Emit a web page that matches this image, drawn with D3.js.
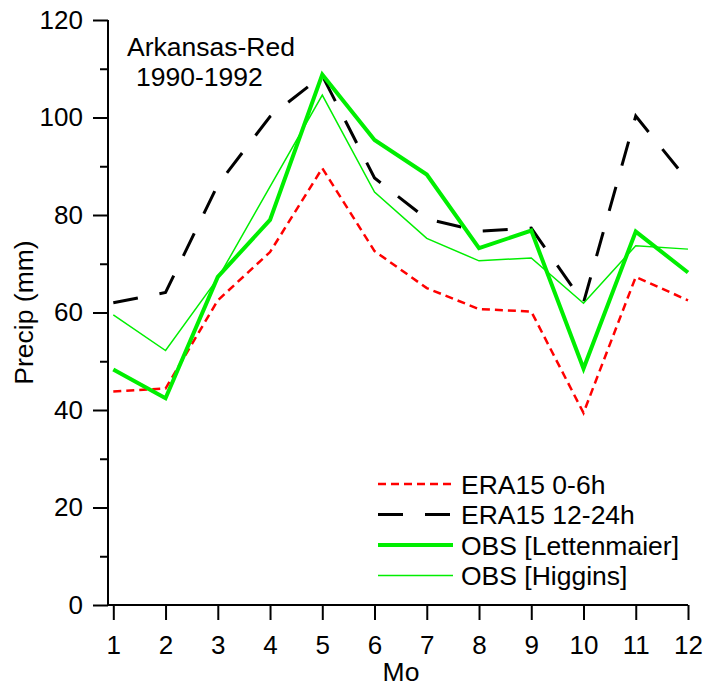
<!DOCTYPE html>
<html>
<head>
<meta charset="utf-8">
<script src="https://cdn.jsdelivr.net/npm/d3@7"></script>
<style>
  body { margin: 0; background: #fff; }
  svg { display: block; font-family: "Liberation Sans", Arial, sans-serif; }
  .axis path, .axis line { stroke: #000; stroke-width: 2px; }
  .axis text { font-size: 26px; fill: #000; }
  .lbl { font-size: 26.5px; fill: #000; }
</style>
</head>
<body>
<svg id="chart"></svg>
<script>
// monthly precip, Arkansas-Red basin 1990-1992
var months = [1, 2, 3, 4, 5, 6, 7, 8, 9, 10, 11, 12]
var era0to6 = [43.8, 44.4, 62.5, 72.4, 89.6, 72.6, 65.0, 60.7, 60.2, 39.4, 67.3, 62.5]
var era12to24 = [62.0, 64.1, 86.2, 100.2, 108.6, 87.6, 79.2, 76.7, 77.3, 62.0, 100.3, 87.0]
var obsLett = [48.3, 42.4, 67.3, 79.0, 108.8, 95.4, 88.3, 73.2, 76.8, 48.5, 76.6, 68.2]
var obsHigg = [59.5, 52.2, 67.0, 85.8, 104.6, 84.7, 75.2, 70.6, 71.2, 61.9, 73.7, 73.0]
var yMajor = [0, 20, 40, 60, 80, 100, 120]
var yMinor = [10, 30, 50, 70, 90, 110]

var series = [
  { name: "ERA15 0-6h", values: era0to6, color: "#ff0000", width: 2.5, dash: "8,5" },
  { name: "ERA15 12-24h", values: era12to24, color: "#000000", width: 3, dash: "25,22" },
  { name: "OBS [Lettenmaier]", values: obsLett, color: "#00ee00", width: 4, dash: null },
  { name: "OBS [Higgins]", values: obsHigg, color: "#00ee00", width: 1.5, dash: null }
]

var width = 717, height = 688
var axisX = 108

var svg = d3.select("#chart")
  .attr("width", width)
  .attr("height", height)

var x = d3.scaleLinear().domain([1, 12]).range([113.3, 688])
var y = d3.scaleLinear().domain([0, 120]).range([605, 20])

// y axis, major + minor ticks
var yAxis = svg.append("g")
  .attr("class", "axis")
  .attr("transform", "translate(" + axisX + ",0)")
  .call(d3.axisLeft(y).tickValues(yMajor).tickSize(15).tickPadding(10).tickSizeOuter(0))
yAxis.select(".domain").remove()

svg.append("g")
  .attr("class", "axis")
  .attr("transform", "translate(" + axisX + ",0)")
  .call(d3.axisLeft(y).tickValues(yMinor).tickSize(8).tickFormat("").tickSizeOuter(0))
  .select(".domain").remove()

svg.append("line")
  .attr("x1", axisX).attr("x2", axisX)
  .attr("y1", y(120)).attr("y2", y(0))
  .attr("stroke", "#000").attr("stroke-width", 2)

// x axis
var xAxis = svg.append("g")
  .attr("class", "axis")
  .attr("transform", "translate(0," + y(0) + ")")
  .call(d3.axisBottom(x).tickValues(months).tickSize(15).tickPadding(16).tickSizeOuter(0))
xAxis.select(".domain").remove()

svg.append("line")
  .attr("x1", axisX - 1).attr("x2", x(12))
  .attr("y1", y(0)).attr("y2", y(0))
  .attr("stroke", "#000").attr("stroke-width", 2)

// lines
var line = d3.line()
  .x(function(d, i) { return x(months[i]) })
  .y(function(d) { return y(d) })

svg.selectAll(".series")
  .data(series)
  .enter().append("path")
    .attr("class", "series")
    .attr("fill", "none")
    .attr("stroke", function(d) { return d.color })
    .attr("stroke-width", function(d) { return d.width })
    .attr("stroke-dasharray", function(d) { return d.dash })
    .attr("stroke-linejoin", "miter")
    .attr("d", function(d) { return line(d.values) })

// axis titles
svg.append("text")
  .attr("class", "lbl")
  .attr("x", 401).attr("y", 681)
  .attr("text-anchor", "middle")
  .text("Mo")

svg.append("text")
  .attr("class", "lbl")
  .attr("transform", "translate(33," + ((y(0) + y(120)) / 2) + ") rotate(-90)")
  .attr("text-anchor", "middle")
  .text("Precip (mm)")

// basin label
svg.append("text").attr("class", "lbl").attr("x", 127).attr("y", 56).text("Arkansas-Red")
svg.append("text").attr("class", "lbl").attr("x", 136).attr("y", 86).text("1990-1992")

// legend
var legend = svg.selectAll(".leg")
  .data(series)
  .enter().append("g")
    .attr("class", "leg")
    .attr("transform", function(d, i) { return "translate(378," + (484 + i * 30.5) + ")" })

legend.append("line")
  .attr("x1", 0).attr("x2", 75)
  .attr("stroke", function(d) { return d.color })
  .attr("stroke-width", function(d) { return d.width })
  .attr("stroke-dasharray", function(d) { return d.dash })

legend.append("text")
  .attr("class", "lbl")
  .attr("x", 83).attr("y", 9.5)
  .text(function(d) { return d.name })
</script>
</body>
</html>
